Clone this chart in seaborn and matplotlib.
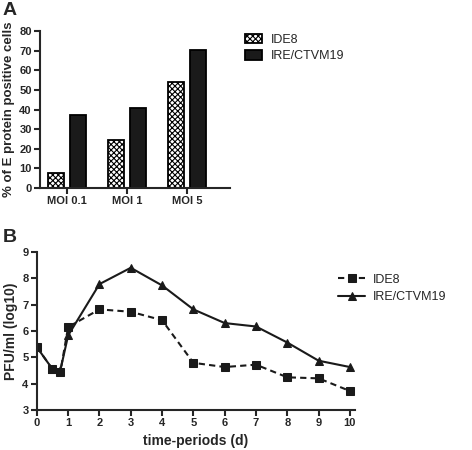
import pandas as pd
import matplotlib.pyplot as plt
import seaborn as sns

# panel A data
moi_labels = ['MOI 0.1', 'MOI 1', 'MOI 5']
ide8_pct = [7.5, 24.5, 54.0]
ire_pct = [37.0, 41.0, 70.5]

# panel B data
days = [0, 0.5, 0.75, 1, 2, 3, 4, 5, 6, 7, 8, 9, 10]
ide8_pfu = [5.39, 4.55, 4.43, 6.15, 6.82, 6.73, 6.41, 4.79, 4.63, 4.72, 4.24, 4.20, 3.72]
ire_pfu = [5.39, 4.55, 4.50, 5.83, 7.78, 8.40, 7.73, 6.82, 6.30, 6.17, 5.56, 4.87, 4.63]
cell_lines = ['IDE8', 'IRE/CTVM19']

sns.set_style("ticks")
plt.rcParams['font.family'] = ['Liberation Sans', 'DejaVu Sans']
plt.rcParams['hatch.color'] = '#444444'
plt.rcParams['hatch.linewidth'] = 0.8

fig = plt.figure(figsize=(4.72, 4.50), dpi=100)

# ---- panel A
df_a = pd.DataFrame({
    'MOI': moi_labels * 2,
    'pct': ide8_pct + ire_pct,
    'line': [cell_lines[0]] * 3 + [cell_lines[1]] * 3,
})
ax1 = fig.add_axes([0.085, 0.582, 0.402, 0.349])
sns.barplot(data=df_a, x='MOI', y='pct', hue='line', ax=ax1,
            width=0.74, gap=0.27, palette=['white', '#1a1a1a'],
            edgecolor='black', linewidth=1.3, legend=False)
for bar in ax1.patches[:3]:
    bar.set_hatch('xxxxxx')
ax1.set_ylim(0, 80)
ax1.set_xlim(-0.45, 2.72)
ax1.set_yticks(range(0, 81, 10))
ax1.set_xlabel('')
ax1.set_ylabel('% of E protein positive cells', fontsize=9.5, fontweight='bold', labelpad=3)

# legend A built from the bars
h1 = ax1.patches[0]
h2 = ax1.patches[3]
fig.legend([h1, h2], cell_lines, loc='upper left', bbox_to_anchor=(0.519, 0.925),
           frameon=False, fontsize=9, handlelength=1.4, handleheight=0.8,
           labelspacing=0.35, handletextpad=0.7, borderpad=0, borderaxespad=0)

# ---- panel B
df_b = pd.DataFrame({
    'day': days * 2,
    'pfu': ide8_pfu + ire_pfu,
    'line': [cell_lines[0]] * len(days) + [cell_lines[1]] * len(days),
})
ax2 = fig.add_axes([0.078, 0.089, 0.674, 0.351])
sns.lineplot(data=df_b, x='day', y='pfu', hue='line', style='line',
             palette=['#1a1a1a', '#1a1a1a'], dashes=[(3, 2), ''],
             markers=['s', '^'], markersize=6, markeredgecolor='#1a1a1a',
             linewidth=1.5, ax=ax2)
ax2.set_xlim(0, 10.16)
ax2.set_ylim(3, 9)
ax2.set_xticks(range(0, 11))
ax2.set_yticks(range(3, 10))
ax2.set_xlabel('time-periods (d)', fontsize=10, fontweight='bold')
ax2.set_ylabel('PFU/ml (log10)', fontsize=10, fontweight='bold', labelpad=3)
handles, labels = ax2.get_legend_handles_labels()
ax2.get_legend().remove()
fig.legend(handles, labels, loc='upper left', bbox_to_anchor=(0.716, 0.392),
           frameon=False, fontsize=9, handlelength=2.2, labelspacing=0.45,
           handletextpad=0.6, borderpad=0, borderaxespad=0)

for ax in (ax1, ax2):
    sns.despine(ax=ax)
    for s in ('left', 'bottom'):
        ax.spines[s].set_linewidth(1.5)
    ax.tick_params(width=1.5, length=4, labelsize=8, pad=2)
    for lab in ax.get_xticklabels() + ax.get_yticklabels():
        lab.set_fontweight('bold')

fig.text(0.005, 0.995, 'A', fontsize=14, fontweight='bold', va='top')
fig.text(0.005, 0.49, 'B', fontsize=14, fontweight='bold', va='top')

fig.savefig('out.png', dpi=100)
